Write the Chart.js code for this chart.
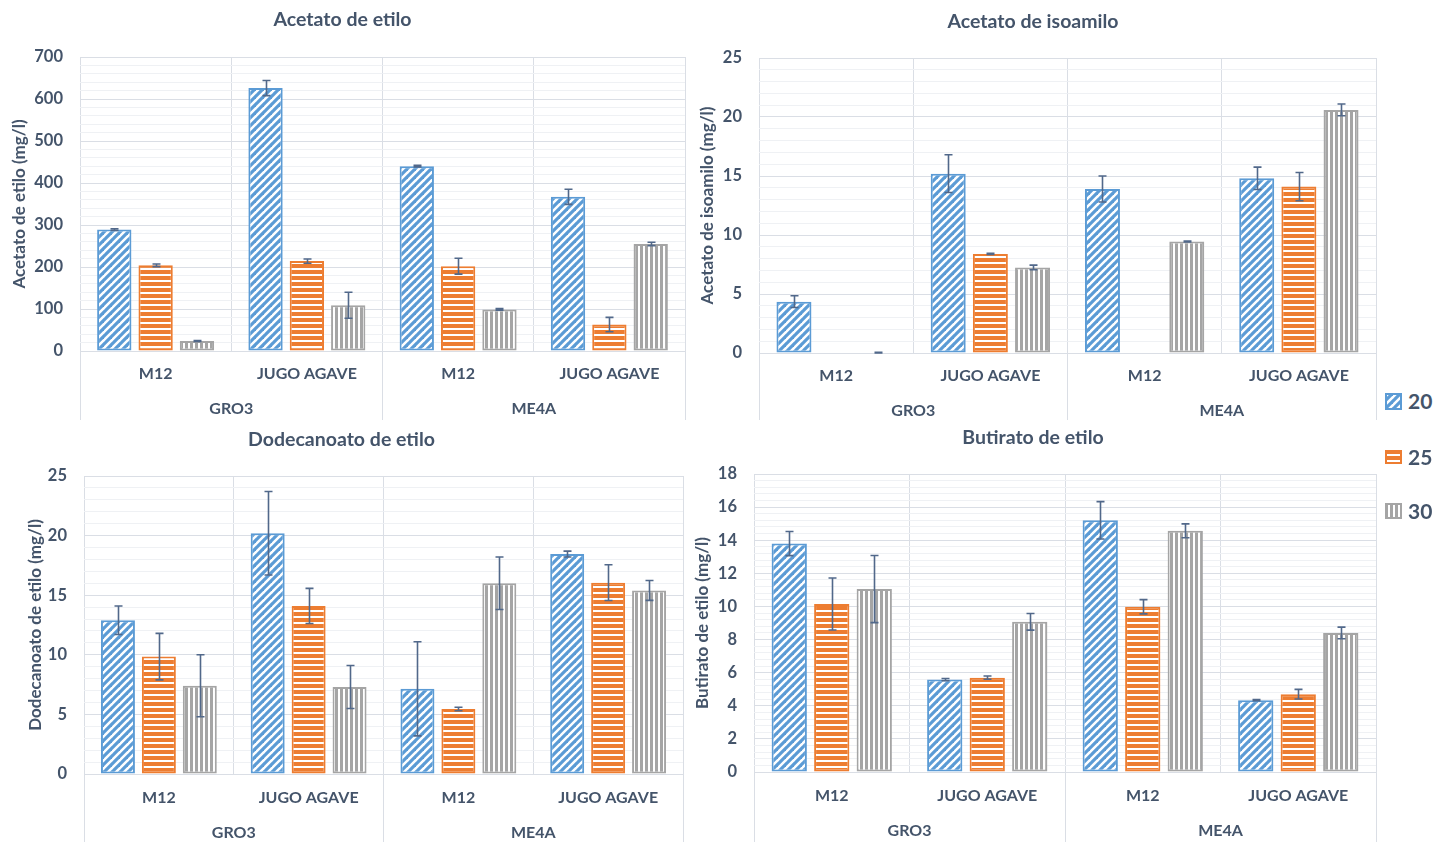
<!DOCTYPE html>
<html>
<head>
<meta charset="utf-8">
<script src="https://cdn.jsdelivr.net/npm/chart.js@4.4.1/dist/chart.umd.min.js"></script>
<style>
  html, body { margin: 0; padding: 0; background: #ffffff; }
  body { width: 1436px; height: 842px; position: relative; overflow: hidden; font-family: Lato, "Open Sans", sans-serif; }
  canvas.panel { position: absolute; }
  .legend-item { position: absolute; left: 1385px; display: flex; align-items: center; height: 20px; }
  .legend-item canvas { display: block; }
  .legend-item span { margin-left: 6px; font: bold 21px Lato, sans-serif; color: #44546a; line-height: 20px; }
</style>
</head>
<body>
<canvas id="p1" class="panel"></canvas>
<canvas id="p2" class="panel"></canvas>
<canvas id="p3" class="panel"></canvas>
<canvas id="p4" class="panel"></canvas>
<div class="legend-item" id="lg0" style="top:391px"><canvas width="17" height="17"></canvas><span></span></div>
<div class="legend-item" id="lg1" style="top:447px"><canvas width="17" height="14"></canvas><span></span></div>
<div class="legend-item" id="lg2" style="top:501px"><canvas width="17" height="16"></canvas><span></span></div>
<script>
// ---- categories and series ----
const categories = ['M12', 'JUGO AGAVE', 'M12', 'JUGO AGAVE'];
const groups = ['GRO3', 'ME4A'];
const temperatures = ['20', '25', '30'];

// Acetato de etilo (mg/l)
const acetatoEtilo20 = [289, 626, 440, 367];
const acetatoEtilo25 = [204, 214, 202, 63];
const acetatoEtilo30 = [24, 109, 99, 255];
const acetatoEtiloErr20 = [2, 18, 2, 18];
const acetatoEtiloErr25 = [3, 5, 19, 17];
const acetatoEtiloErr30 = [1, 31, 2, 4];

// Acetato de isoamilo (mg/l)
const acetatoIsoamilo20 = [4.35, 15.2, 13.9, 14.8];
const acetatoIsoamilo25 = [0, 8.4, 0, 14.1];
const acetatoIsoamilo30 = [0, 7.25, 9.45, 20.6];
const acetatoIsoamiloErr20 = [0.5, 1.6, 1.1, 0.95];
const acetatoIsoamiloErr25 = [null, 0.05, null, 1.2];
const acetatoIsoamiloErr30 = [0.05, 0.2, 0.03, 0.5];

// Dodecanoato de etilo (mg/l)
const dodecanoato20 = [12.9, 20.2, 7.15, 18.45];
const dodecanoato25 = [9.85, 14.1, 5.45, 16.05];
const dodecanoato30 = [7.4, 7.3, 16.0, 15.4];
const dodecanoatoErr20 = [1.2, 3.5, 3.95, 0.25];
const dodecanoatoErr25 = [1.95, 1.47, 0.15, 1.5];
const dodecanoatoErr30 = [2.6, 1.8, 2.2, 0.83];

// Butirato de etilo (mg/l)
const butirato20 = [13.8, 5.58, 15.2, 4.34];
const butirato25 = [10.15, 5.7, 9.98, 4.7];
const butirato30 = [11.05, 9.07, 14.57, 8.4];
const butiratoErr20 = [0.73, 0.07, 1.13, 0.03];
const butiratoErr25 = [1.57, 0.1, 0.43, 0.29];
const butiratoErr30 = [2.03, 0.5, 0.42, 0.35];

// ---- styling ----
const TEXT = '#44546a';
const ERR = '#51688a';
const GRID_MAJOR = '#dadee5';
const GRID_MINOR = '#eff1f4';
const FONT = 'Lato, "Open Sans", sans-serif';
const seriesColors = ['#5b9bd5', '#ed7d31', '#a5a5a5'];

function makePattern(kind, color) {
  const c = document.createElement('canvas');
  let ctx;
  if (kind === 'diag') {
    c.width = c.height = 8;
    ctx = c.getContext('2d');
    ctx.fillStyle = '#ffffff'; ctx.fillRect(0, 0, 8, 8);
    ctx.strokeStyle = color; ctx.lineWidth = 3.2;
    for (const k of [0, 8, 16]) {
      ctx.beginPath(); ctx.moveTo(k - 12, 12); ctx.lineTo(k + 4, -4); ctx.stroke();
    }
  } else if (kind === 'horiz') {
    c.width = 6; c.height = 6;
    ctx = c.getContext('2d');
    ctx.fillStyle = '#ffffff'; ctx.fillRect(0, 0, 6, 6);
    ctx.fillStyle = color; ctx.fillRect(0, 0, 6, 4);
  } else {
    c.width = 5; c.height = 5;
    ctx = c.getContext('2d');
    ctx.fillStyle = '#ffffff'; ctx.fillRect(0, 0, 5, 5);
    ctx.fillStyle = color; ctx.fillRect(0, 0, 3, 5);
  }
  return ctx.createPattern(c, 'repeat');
}
const patternKinds = ['diag', 'horiz', 'vert'];
const patterns = patternKinds.map((k, i) => makePattern(k, seriesColors[i]));

// Error bars drawn from each dataset's "errors" array
const errorBars = {
  id: 'errorBars',
  afterDatasetsDraw(chart) {
    const { ctx } = chart;
    const y = chart.scales.y;
    ctx.save();
    ctx.strokeStyle = ERR;
    ctx.lineWidth = 1.6;
    chart.data.datasets.forEach((ds, di) => {
      const meta = chart.getDatasetMeta(di);
      meta.data.forEach((bar, i) => {
        const v = ds.data[i], e = ds.errors[i];
        if (v == null || e == null) return;
        const yt = y.getPixelForValue(v + e);
        const yb = y.getPixelForValue(Math.max(v - e, 0));
        const x = Math.round(bar.x) + 0.5;
        ctx.beginPath();
        ctx.moveTo(x, yt); ctx.lineTo(x, yb);
        ctx.moveTo(x - 4, yt); ctx.lineTo(x + 4, yt);
        ctx.moveTo(x - 4, yb); ctx.lineTo(x + 4, yb);
        ctx.stroke();
      });
    });
    ctx.restore();
  }
};

// Second level of the category axis: group dividers and group names
const groupAxis = {
  id: 'groupAxis',
  afterDraw(chart, args, opts) {
    const { ctx, chartArea } = chart;
    const x = chart.scales.x;
    const per = categories.length / groups.length;
    const align = p => Math.round(p - 0.5) + 0.5;
    ctx.save();
    ctx.strokeStyle = GRID_MAJOR;
    ctx.lineWidth = 1;
    for (let g = 0; g <= groups.length; g++) {
      const px = align(x.getPixelForValue(g * per - 0.5));
      ctx.beginPath();
      ctx.moveTo(px, chartArea.bottom);
      ctx.lineTo(px, chart.height);
      ctx.stroke();
    }
    ctx.fillStyle = TEXT;
    ctx.font = 'bold 16px ' + FONT;
    ctx.textAlign = 'center';
    ctx.textBaseline = 'middle';
    groups.forEach((name, g) => {
      const cx = (x.getPixelForValue(g * per - 0.5) + x.getPixelForValue((g + 1) * per - 0.5)) / 2;
      ctx.fillText(name, cx, chartArea.bottom + opts.offset);
    });
    ctx.restore();
  }
};

const panels = [
  { id: 'p1', title: 'Acetato de etilo', yTitle: 'Acetato de etilo (mg/l)',
    values: [acetatoEtilo20, acetatoEtilo25, acetatoEtilo30],
    errors: [acetatoEtiloErr20, acetatoEtiloErr25, acetatoEtiloErr30],
    max: 700, step: 20, major: 100,
    canvas: { left: 0, top: 0, w: 690, h: 420 },
    plot: { left: 80, right: 685, top: 57, bottom: 351 },
    titleY: 20, yTitleX: 20, tickOff: 23, groupOff: 58 },
  { id: 'p2', title: 'Acetato de isoamilo', yTitle: 'Acetato de isoamilo (mg/l)',
    values: [acetatoIsoamilo20, acetatoIsoamilo25, acetatoIsoamilo30],
    errors: [acetatoIsoamiloErr20, acetatoIsoamiloErr25, acetatoIsoamiloErr30],
    max: 25, step: 1, major: 5,
    canvas: { left: 690, top: 0, w: 690, h: 420 },
    plot: { left: 759, right: 1376, top: 58, bottom: 353 },
    titleY: 22, yTitleX: 708, tickOff: 23, groupOff: 58 },
  { id: 'p3', title: 'Dodecanoato de etilo', yTitle: 'Dodecanoato de etilo (mg/l)',
    values: [dodecanoato20, dodecanoato25, dodecanoato30],
    errors: [dodecanoatoErr20, dodecanoatoErr25, dodecanoatoErr30],
    max: 25, step: 1, major: 5,
    canvas: { left: 0, top: 420, w: 704, h: 422 },
    plot: { left: 84, right: 683, top: 476, bottom: 774 },
    titleY: 440, yTitleX: 36, tickOff: 24, groupOff: 59 },
  { id: 'p4', title: 'Butirato de etilo', yTitle: 'Butirato de etilo (mg/l)',
    values: [butirato20, butirato25, butirato30],
    errors: [butiratoErr20, butiratoErr25, butiratoErr30],
    max: 18, step: 0.4, major: 2,
    canvas: { left: 690, top: 420, w: 690, h: 422 },
    plot: { left: 754, right: 1376, top: 474, bottom: 772 },
    titleY: 438, yTitleX: 703, tickOff: 24, groupOff: 59 }
];

function isMajor(v, major) {
  const r = v / major;
  return Math.abs(r - Math.round(r)) < 1e-6;
}

function buildPanel(p) {
  const cv = document.getElementById(p.id);
  cv.width = p.canvas.w; cv.height = p.canvas.h;
  Object.assign(cv.style, {
    left: p.canvas.left + 'px', top: p.canvas.top + 'px',
    width: p.canvas.w + 'px', height: p.canvas.h + 'px'
  });
  const titleSize = 19.5;
  const titleLine = titleSize * 1.2;
  const tpTop = p.titleY - p.canvas.top - titleLine / 2;
  const tpBottom = (p.plot.top - p.canvas.top) - titleLine - tpTop;
  const yTitleSize = 17;
  const yTitleLine = yTitleSize * 1.2;

  new Chart(cv, {
    type: 'bar',
    data: {
      labels: categories,
      datasets: temperatures.map((t, k) => ({
        label: t,
        data: p.values[k],
        errors: p.errors[k],
        backgroundColor: patterns[k],
        borderColor: seriesColors[k],
        borderWidth: 2,
        borderSkipped: false,
        categoryPercentage: 0.82,
        barPercentage: 0.83
      }))
    },
    options: {
      responsive: false,
      animation: false,
      devicePixelRatio: 1,
      layout: { padding: { left: 0, top: 0, bottom: 0, right: p.canvas.left + p.canvas.w - p.plot.right } },
      plugins: {
        legend: { display: false },
        tooltip: { enabled: false },
        title: {
          display: true, text: p.title, color: TEXT,
          font: { family: FONT, size: titleSize, weight: 'bold', lineHeight: 1.2 },
          padding: { top: tpTop, bottom: tpBottom }
        },
        groupAxis: { offset: p.groupOff }
      },
      scales: {
        x: {
          grid: { offset: true, color: GRID_MAJOR, lineWidth: 1, drawTicks: false },
          border: { display: false },
          ticks: {
            color: TEXT, autoSkip: false, maxRotation: 0, minRotation: 0,
            padding: p.tickOff - 9.6,
            font: { family: FONT, size: 16, weight: 'bold', lineHeight: 1.2 }
          },
          afterFit: s => { s.height = p.canvas.top + p.canvas.h - p.plot.bottom; }
        },
        y: {
          min: 0, max: p.max,
          grid: {
            drawTicks: false, lineWidth: 1,
            color: c => (c.tick && isMajor(c.tick.value, p.major)) ? GRID_MAJOR : GRID_MINOR
          },
          border: { display: false },
          ticks: {
            stepSize: p.step, autoSkip: false, padding: 17, color: TEXT,
            font: { family: FONT, size: 16.5, weight: 'bold' },
            callback: v => isMajor(v, p.major) ? String(Math.round(v)) : ''
          },
          title: {
            display: true, text: p.yTitle, color: TEXT,
            font: { family: FONT, size: yTitleSize, weight: 'bold', lineHeight: 1.2 },
            padding: { top: p.yTitleX - p.canvas.left - yTitleLine / 2, bottom: 0 }
          },
          afterFit: s => { s.width = p.plot.left - p.canvas.left; }
        }
      }
    },
    plugins: [errorBars, groupAxis]
  });
}

function buildLegend() {
  temperatures.forEach((t, k) => {
    const item = document.getElementById('lg' + k);
    const sw = item.querySelector('canvas');
    const ctx = sw.getContext('2d');
    ctx.fillStyle = patterns[k];
    ctx.fillRect(0, 0, sw.width, sw.height);
    ctx.strokeStyle = seriesColors[k];
    ctx.lineWidth = 2;
    ctx.strokeRect(1, 1, sw.width - 2, sw.height - 2);
    item.querySelector('span').textContent = t;
  });
}

Chart.defaults.font.family = FONT;
Promise.all([
  document.fonts.load('bold 16px Lato'),
  document.fonts.load('bold 18px Lato')
]).catch(() => {}).then(() => {
  panels.forEach(buildPanel);
  buildLegend();
});
</script>
</body>
</html>
